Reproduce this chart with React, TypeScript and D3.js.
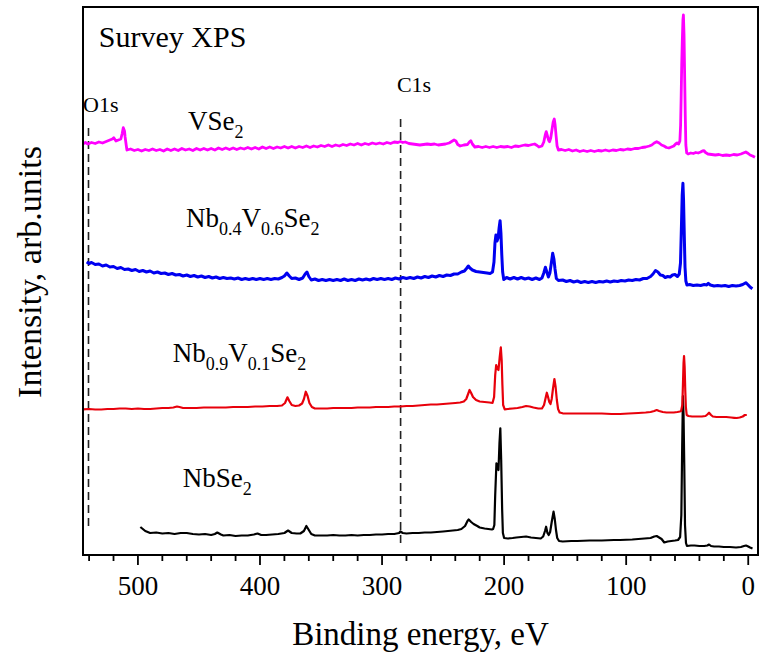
import React from 'react';
import * as d3 from 'd3';

// Binding energy axis ticks (eV)
const allTicks = [540, 520, 500, 480, 460, 440, 420, 400, 380, 360, 340, 320, 300, 280, 260, 240, 220, 200, 180, 160, 140, 120, 100, 80, 60, 40, 20, 0];
const majorTicks = [500, 400, 300, 200, 100, 0];

// Reference lines (eV)
const o1sEnergy = 540.5;
const c1sEnergy = 284.8;

// Spectra: [binding energy eV, intensity a.u. (stacked offset included)]
const nbse2: [number, number][] = [
  [498, 28], [494, 24], [490, 22], [485, 22.5], [480, 21.5], [475, 22], [470, 21], [465, 22], [460, 22], [455, 21], [450, 20.5],
  [445, 21], [440, 20], [437, 21], [435, 22.5], [432, 20.5], [430, 19.5], [425, 20], [420, 19], [415, 19.5], [410, 19.5],
  [405, 20.5], [402, 21.5], [399, 20], [395, 20], [390, 20.5], [385, 21], [380, 22], [377, 24.5], [374, 22], [370, 21.5],
  [367, 21.5], [364, 24], [362, 29], [360, 25], [358, 21], [355, 19.5], [350, 19.5], [345, 19.5], [340, 20], [335, 19.5],
  [330, 19.5], [325, 20], [320, 19.5], [315, 20], [310, 20], [305, 20.5], [300, 20.5], [295, 21], [290, 21], [286, 22],
  [285, 23.5], [283, 22], [280, 21.5], [275, 22], [270, 22], [265, 22.5], [260, 22.5], [255, 23], [250, 23.5], [246, 24],
  [242, 24.5], [238, 25], [235, 26], [232, 29], [230, 34], [229, 35.5], [227, 33], [225, 31], [222, 29], [220, 27.5],
  [216, 26.5], [213, 26], [210, 25.5], [209, 26], [208, 30], [207.3, 60], [206.3, 91.7], [205.5, 88], [204.6, 85],
  [203.8, 112], [203.1, 126.7], [202.4, 95], [201.6, 45], [201, 22], [200, 17], [197, 16.5], [193, 17], [190, 17.5],
  [186, 18], [182, 18.5], [178, 17.5], [174, 17], [170, 16.5], [168, 18.5], [166.5, 24], [165.6, 28.3], [164.5, 22],
  [163.5, 20], [162.3, 23], [161, 33], [159.5, 43.3], [158.5, 36], [157.5, 25], [156.5, 17], [155, 14], [152, 13.5],
  [145, 14], [140, 14], [130, 14.5], [120, 14.5], [110, 15], [105, 15], [95, 15.5], [90, 16], [85, 16.5], [80, 17],
  [77, 18.5], [75, 19], [73, 17.5], [71, 16], [68.8, 12.5], [66, 13.5], [63, 14], [60, 14.5], [57.5, 15], [55.8, 18],
  [54.8, 40], [54.1, 110], [53.5, 159], [53, 140], [52.4, 90], [51.8, 30], [51, 12], [50.2, 9], [47, 9.5], [44, 9.5],
  [40, 9], [36, 9], [33.5, 9.5], [32.1, 10.5], [30.5, 9], [28, 8.5], [24, 8.5], [20, 8], [15, 8], [10, 7.5], [6, 8],
  [3.5, 9], [1.8, 9.5], [0, 8.5], [-1.5, 7.5], [-3.5, 6.5],
];

const nb09v01se2: [number, number][] = [
  [545, 145.7], [540, 146], [535, 145.5], [530, 145.5], [525, 146], [520, 146], [515, 146.5], [510, 146.5], [505, 146],
  [500, 146.5], [495, 146], [490, 146], [485, 146.5], [480, 147], [475, 147], [471, 147.5], [468, 148.5], [466, 148],
  [463, 147], [458, 147], [452, 147], [446, 147.5], [440, 147.5], [434, 147.5], [428, 147.5], [422, 148], [416, 148],
  [410, 148], [404, 148.5], [398, 148.5], [392, 149], [386, 149], [382, 149.5], [379.5, 152], [377.5, 157.7],
  [376, 154], [374, 150], [371, 149], [368, 149.5], [365.5, 151.5], [364, 156], [362.5, 163.3], [361, 159], [359.5, 152],
  [357.5, 148], [355, 146.5], [350, 146.5], [345, 146.5], [340, 147], [335, 147], [330, 147], [325, 147], [320, 147.5],
  [315, 147.5], [310, 147.5], [305, 148], [300, 148], [295, 148], [290, 148.5], [285, 148.5], [280, 149], [275, 149],
  [270, 149.5], [265, 150], [260, 150.5], [255, 150.5], [250, 151], [245, 151.5], [240, 152], [236, 152.5], [233, 153.5],
  [231, 156], [229.5, 161], [228.3, 165], [227, 162], [225.5, 158], [223, 155], [220, 153.5], [216, 153], [212, 152.5],
  [209.5, 152], [208.2, 158], [207.3, 180], [206.5, 190], [205.5, 186], [204.6, 185], [203.6, 198], [202.7, 207.7],
  [202, 195], [201.4, 170], [200.8, 150], [199.5, 145.7], [197, 146], [193, 146.5], [189, 147], [185, 148], [182, 149],
  [179, 148.5], [176, 147.5], [172, 146.5], [169, 146.5], [167.3, 150], [166, 157], [165, 162.3], [164, 158], [163, 153],
  [162, 151], [161, 156], [160, 166], [158.8, 176], [157.8, 168], [156.8, 155], [155.8, 146], [154.5, 142.5], [152, 141.7],
  [148, 141.5], [142, 141.5], [135, 141.5], [128, 141.5], [120, 141.5], [112, 141], [105, 141], [98, 141.5], [90, 142],
  [84, 142.5], [80, 143], [77, 144], [75, 145], [73, 144], [70, 143], [67, 142.5], [64, 142.5], [61, 142.5], [58, 143],
  [56, 143.5], [55, 144], [54, 150], [53.5, 170], [53, 192], [52.6, 199], [52.1, 188], [51.6, 165], [51.1, 148],
  [50.4, 140], [49, 139], [46, 138.5], [42, 138.5], [38, 138.5], [35, 139], [33.5, 140.5], [32.1, 142.3], [30.5, 140],
  [29, 138.5], [26, 138], [22, 138], [18, 138], [14, 137.5], [11.5, 137.2], [9.4, 137], [7, 137.5], [4.5, 138.5],
  [2.8, 140], [1.2, 140],
];

const nb04v06se2: [number, number][] = [
  [542, 293], [540, 291.5], [538, 292.5], [535, 290.5], [532, 291], [529, 289], [526, 290], [523, 288], [520, 288.5],
  [517, 286.5], [514, 287.5], [511, 285.5], [508, 286], [505, 284.5], [502, 285.5], [499, 283.5], [496, 284.5], [493, 283],
  [490, 284], [487, 282], [484, 283], [481, 281.5], [478, 282], [475, 280.5], [472, 281.5], [469, 280], [466, 280.5],
  [463, 279], [460, 280], [457, 278.5], [454, 279.5], [451, 278], [448, 279], [445, 277.5], [442, 278.5], [439, 277],
  [436, 278], [433, 276.5], [430, 277.5], [427, 276.5], [424, 277], [421, 276], [418, 277], [415, 275.5], [412, 276.5],
  [409, 275.5], [406, 276.5], [403, 275.5], [400, 276.5], [397, 275.5], [394, 276.5], [391, 275.5], [388, 276.5],
  [385, 276], [382, 277.5], [380, 279], [378, 282], [376, 279], [374, 276.5], [371, 277], [368, 275.5], [365, 277],
  [363, 281], [361.5, 283], [360, 278.5], [358, 275], [355, 276], [352, 274.5], [349, 275.5], [346, 274.5], [343, 275.5],
  [340, 274.5], [337, 275.5], [334, 274.5], [331, 276], [328, 274.5], [325, 275.5], [322, 274.5], [319, 276], [316, 275],
  [313, 276], [310, 275], [307, 276.5], [304, 275.5], [301, 276.5], [298, 275.5], [295, 276.5], [292, 275.5], [289, 277],
  [286, 276], [283, 277.5], [280, 276.5], [277, 277.5], [274, 276.5], [271, 278], [268, 277], [265, 278.5], [262, 277.5],
  [259, 279], [256, 278], [253, 279.5], [250, 278.5], [247, 280], [244, 279.5], [241, 281], [238, 281], [235, 283],
  [232.5, 284], [230.5, 287], [229.3, 289], [228, 287], [226, 285], [223, 283.5], [220, 283], [217, 282.5], [214, 282],
  [211.5, 281.5], [209.5, 283], [208.3, 293], [207.5, 312], [206.7, 320], [205.8, 314], [204.9, 317], [204.1, 327],
  [203.3, 334.3], [202.6, 322], [201.9, 300], [201.2, 283], [200.3, 275.5], [198, 277.5], [195, 276], [192, 277.5],
  [189, 276], [186, 277.5], [183, 276], [180, 277], [177, 275.5], [174, 277], [171, 275.5], [169, 277], [167.5, 282],
  [166.2, 287.7], [165, 283], [163.7, 278], [162.5, 282], [161.3, 292], [160.2, 301.7], [159.2, 296], [158.3, 286],
  [157.2, 276.5], [155.5, 274.5], [152, 275], [149, 273.5], [146, 274.5], [143, 273], [140, 274], [137, 272.5],
  [134, 273.5], [131, 272.5], [128, 273.5], [125, 272.5], [122, 273.5], [119, 273], [116, 274], [113, 273], [110, 274],
  [107, 273.5], [104, 274.5], [101, 274], [98, 275], [95, 274.5], [92, 275.5], [89, 275], [86, 276.5], [83, 276.5],
  [80, 278.5], [78, 281], [76, 284.5], [74, 283], [72, 280], [70, 279.5], [68, 277.5], [66, 278.5], [64, 278],
  [62, 280], [60, 280.5], [58, 278.5], [56.5, 281], [55.5, 292], [54.7, 330], [54.1, 360], [53.5, 371.7], [53, 355],
  [52.4, 320], [51.8, 288], [51.1, 274], [50.2, 270], [48, 270.5], [45, 269.5], [42, 270], [39, 269.5], [36, 270.5],
  [34, 270], [32.7, 271.7], [31, 270], [28, 269], [25, 269.5], [22, 269], [19, 269.5], [16, 268.5], [13, 269.5],
  [10, 269], [7, 269.5], [4.5, 270.5], [2, 272.3], [0, 270], [-1.5, 268], [-3.4, 266.3],
];

const vse2: [number, number][] = [
  [545.2, 411], [543, 412.5], [541, 411], [538, 412.5], [535, 411.5], [532, 413], [529, 412], [526, 413.5], [523, 415],
  [521, 416], [519.8, 417.3], [518, 414], [516, 415], [514, 416], [513, 421], [512, 427.3], [511, 424], [510.5, 418],
  [509.5, 409], [509, 405], [506, 406], [503, 404.5], [500, 405.5], [497, 404], [494, 405.5], [491, 404.5], [488, 406],
  [485, 404.5], [482, 405.5], [479, 404], [476, 406], [473, 404.5], [470, 406], [467, 404.5], [464, 406.5], [461, 405],
  [458, 406], [455, 404.5], [452, 406.5], [449, 405], [446, 406.5], [443, 405], [440, 406.5], [437, 405], [434, 407],
  [431, 405.5], [428, 407], [425, 405.5], [422, 407], [419, 405.5], [416, 407], [413, 406], [410, 407.5], [407, 406],
  [404, 407.5], [401, 406], [398, 408], [395, 406.5], [392, 408], [389, 406.5], [386, 408], [383, 407], [380, 408.5],
  [377, 407], [374, 408.5], [371, 407], [368, 408.5], [365, 407.5], [362, 409], [359, 407.5], [356, 409], [353, 408],
  [350, 409.5], [347, 408.5], [344, 410], [341, 408.5], [338, 410], [335, 409], [332, 410.5], [329, 409.5], [326, 411],
  [323, 410], [320, 411.5], [317, 410], [314, 411.5], [311, 410.5], [308, 412], [305, 411], [302, 412], [299, 411],
  [296, 412.5], [293, 411.5], [290, 413], [287, 412.5], [285, 413.5], [283, 412.5], [281, 413], [278, 411.5], [275, 411],
  [272, 410.5], [269, 410], [266, 410.5], [263, 411], [260, 410.5], [257, 411], [254, 410], [251, 410.5], [248, 411],
  [245, 412], [243, 413.5], [241, 415], [239.5, 414], [238, 410.5], [236, 409], [233, 410], [230, 410.5], [228.5, 413],
  [227.3, 414.3], [226, 411], [224, 408], [221, 408.5], [218, 407.5], [215, 408.5], [212, 407.5], [209, 408.5],
  [206, 407.5], [203, 408.5], [200, 408], [197, 408.5], [194, 407.5], [191, 409], [188, 408.5], [185, 409.5], [183, 410],
  [180, 409.5], [177, 410.5], [175, 411], [173, 409.5], [171.5, 408], [169, 409], [167.5, 413], [166.3, 420],
  [165.5, 423.3], [164.5, 419], [163.5, 414.5], [162.8, 413.3], [161.8, 417], [160.8, 425], [159.8, 433], [158.9, 436],
  [158.2, 430], [157.4, 419], [156.6, 409], [155.5, 405], [153, 405.5], [150, 404.5], [147, 405.5], [144, 404],
  [141, 405], [138, 403.5], [135, 404.5], [132, 403.5], [129, 404.5], [126, 403.5], [123, 404.5], [120, 404],
  [117, 405], [114, 404], [111, 405], [108, 404.5], [105, 405.5], [102, 405], [99, 406], [96, 405.5], [93, 406.5],
  [90, 406.5], [87, 407.5], [84, 408], [81, 409], [79, 410], [77, 412], [75, 413.3], [73, 412], [71, 410], [69, 409],
  [67, 407.5], [65, 407], [63, 408], [61, 409], [59.5, 411], [58.3, 412], [57, 411], [56, 414], [55.4, 430], [55, 455],
  [54.5, 490], [54, 515], [53.5, 535], [53.1, 540], [52.6, 520], [52.1, 480], [51.6, 440], [51.1, 410], [50.4, 402],
  [49.3, 401], [47, 402], [45, 401.5], [43, 402.5], [41, 402], [39, 403], [37.5, 404], [36.2, 404.3], [35, 402.5],
  [33, 401], [30, 400.5], [27, 400], [24, 400.5], [21, 399.5], [18, 400], [15, 399.5], [12, 400.5], [9, 400],
  [6, 401], [4, 402], [2, 403], [0, 401.5], [-1.5, 400], [-3.5, 399], [-5.5, 397.7],
];

const seriesList = [
  { key: 'NbSe2', data: nbse2 },
  { key: 'Nb0.9V0.1Se2', data: nb09v01se2 },
  { key: 'Nb0.4V0.6Se2', data: nb04v06se2 },
  { key: 'VSe2', data: vse2 },
];

const seriesStyle: Record<string, { color: string; width: number }> = {
  'NbSe2': { color: '#000000', width: 2.2 },
  'Nb0.9V0.1Se2': { color: '#e8000b', width: 2.2 },
  'Nb0.4V0.6Se2': { color: '#0000f0', width: 3 },
  'VSe2': { color: '#ff00ff', width: 2.8 },
};

const W = 760;
const H = 657;
const plot = { left: 83, right: 758, top: 7, bottom: 555 };
const FONT = "'Liberation Serif', 'Times New Roman', Times, serif";

type Part = { t: string; sub?: boolean };
const labels: { e: number; i: number; parts: Part[] }[] = [
  { e: 459, i: 425, parts: [{ t: 'VSe' }, { t: '2', sub: true }] },
  { e: 460.6, i: 328, parts: [{ t: 'Nb' }, { t: '0.4', sub: true }, { t: 'V' }, { t: '0.6', sub: true }, { t: 'Se' }, { t: '2', sub: true }] },
  { e: 471.5, i: 193, parts: [{ t: 'Nb' }, { t: '0.9', sub: true }, { t: 'V' }, { t: '0.1', sub: true }, { t: 'Se' }, { t: '2', sub: true }] },
  { e: 463.3, i: 68, parts: [{ t: 'NbSe' }, { t: '2', sub: true }] },
];

export default function App() {
  const x = d3.scaleLinear().domain([545, -8]).range([plot.left, plot.right]);
  const y = d3.scaleLinear().domain([0, 548]).range([plot.bottom, plot.top]);
  const line = d3
    .line<[number, number]>()
    .x((d) => x(d[0]))
    .y((d) => y(d[1]));

  return (
    <svg
      width={W}
      height={H}
      style={{ position: 'absolute', left: 0, top: 0, display: 'block', background: '#fff' }}
      fontFamily={FONT}
    >
      <rect x={0} y={0} width={W} height={H} fill="#fff" />
      {/* reference dashed lines */}
      <line x1={x(o1sEnergy)} x2={x(o1sEnergy)} y1={y(427)} y2={y(25)} stroke="#222" strokeWidth={1.6} strokeDasharray="8,5" />
      <line x1={x(c1sEnergy)} x2={x(c1sEnergy)} y1={y(436)} y2={y(9)} stroke="#222" strokeWidth={1.6} strokeDasharray="8,5" />

      {seriesList.map((s) => (
        <path
          key={s.key}
          d={line(s.data) || ''}
          fill="none"
          stroke={seriesStyle[s.key].color}
          strokeWidth={seriesStyle[s.key].width}
          strokeLinejoin="round"
        />
      ))}

      {/* frame */}
      <rect
        x={plot.left}
        y={plot.top}
        width={plot.right - plot.left}
        height={plot.bottom - plot.top}
        fill="none"
        stroke="#000"
        strokeWidth={2}
      />

      {/* x ticks */}
      {allTicks.map((t) => {
        const major = majorTicks.includes(t);
        return (
          <line
            key={t}
            x1={x(t)}
            x2={x(t)}
            y1={plot.bottom}
            y2={plot.bottom + (major ? 10 : 6)}
            stroke="#000"
            strokeWidth={1.8}
          />
        );
      })}
      {majorTicks.map((t) => (
        <text key={'l' + t} x={x(t)} y={595} textAnchor="middle" fontSize={27} fill="#000">
          {t}
        </text>
      ))}

      <text x={(plot.left + plot.right) / 2} y={645} textAnchor="middle" fontSize={33} fill="#000">
        Binding energy, eV
      </text>
      <text transform="translate(41,272) rotate(-90)" textAnchor="middle" fontSize={34} fill="#000">
        Intensity, arb.units
      </text>

      <text x={x(532)} y={y(508)} fontSize={30} fill="#000">
        Survey XPS
      </text>
      <text x={x(545)} y={y(443)} fontSize={22} fill="#000">
        O1s
      </text>
      <text x={x(287.8)} y={y(463)} fontSize={22} fill="#000">
        C1s
      </text>

      {labels.map((lb, idx) => {
        let prevSub = false;
        return (
          <text key={idx} x={x(lb.e)} y={y(lb.i)} fontSize={27} fill="#000">
            {lb.parts.map((p, j) => {
              const dy = p.sub && !prevSub ? 8 : !p.sub && prevSub ? -8 : 0;
              prevSub = !!p.sub;
              return (
                <tspan key={j} dy={dy} fontSize={p.sub ? 18 : 27}>
                  {p.t}
                </tspan>
              );
            })}
          </text>
        );
      })}
    </svg>
  );
}
